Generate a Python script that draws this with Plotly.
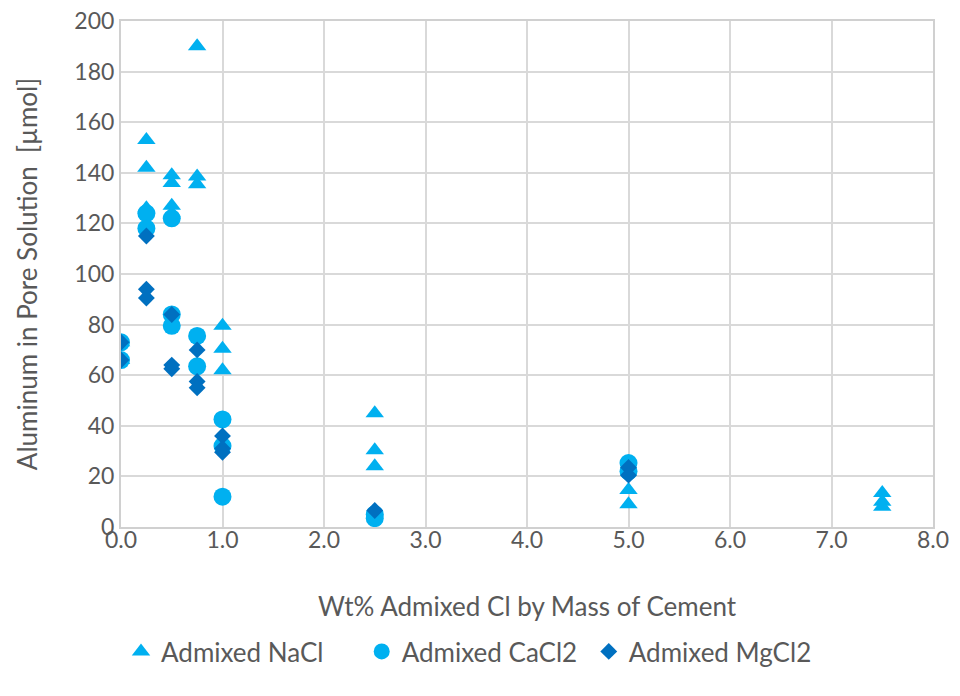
import plotly.graph_objects as go

nacl_x = [0, 0, 0.25, 0.25, 0.25, 0.5, 0.5, 0.5, 0.5, 0.75, 0.75, 0.75, 1.0, 1.0, 1.0, 2.5, 2.5, 2.5, 5.0, 5.0, 7.5, 7.5, 7.5]
nacl_y = [73, 66, 153, 142, 126, 139, 136, 127, 124, 190, 138.5, 135.5, 79.5, 70.5, 62, 45, 30.3, 24, 14.6, 9, 13.4, 10, 8]

cacl2_x = [0, 0, 0.25, 0.25, 0.5, 0.5, 0.5, 0.75, 0.75, 1.0, 1.0, 1.0, 2.5, 2.5, 5.0, 5.0]
cacl2_y = [73, 66, 124, 118, 122, 84, 79.5, 75.5, 63.5, 42.5, 32, 12, 5, 3.5, 25.3, 22]

mgcl2_x = [0, 0, 0.25, 0.25, 0.25, 0.5, 0.5, 0.5, 0.75, 0.75, 0.75, 1.0, 1.0, 1.0, 2.5, 5.0, 5.0]
mgcl2_y = [73, 66, 115, 94, 90.5, 84, 64, 62.5, 70, 57.5, 55, 36, 31, 29.5, 6.5, 23.5, 20.5]

x_ticks = [0, 1, 2, 3, 4, 5, 6, 7, 8]
y_ticks = [0, 20, 40, 60, 80, 100, 120, 140, 160, 180, 200]

font_family = "Lato, Carlito, Calibri, sans-serif"
grey = "#595959"
fsize = 26
tsize = 23

fig = go.Figure()
fig.add_trace(go.Scatter(x=nacl_x, y=nacl_y, mode="markers", name="Admixed NaCl" + "\u00a0" * 5,
                         marker=dict(symbol="triangle-up", size=16, color="#00B0F0")))
fig.add_trace(go.Scatter(x=cacl2_x, y=cacl2_y, mode="markers", name="Admixed CaCl2" + "\u00a0",
                         marker=dict(symbol="circle", size=18, color="#00B0F0")))
fig.add_trace(go.Scatter(x=mgcl2_x, y=mgcl2_y, mode="markers", name="Admixed MgCl2",
                         marker=dict(symbol="diamond", size=13, color="#0070C0")))

fig.update_layout(
    width=952, height=680,
    margin=dict(l=113, r=25, t=11, b=161),
    plot_bgcolor="white", paper_bgcolor="white",
    font=dict(family=font_family, size=fsize, color=grey),
    showlegend=True,
    legend=dict(orientation="h", x=0.0, xanchor="left", y=-0.246, yanchor="middle",
                font=dict(size=fsize, color=grey), itemwidth=30, tracegroupgap=0),
    xaxis=dict(range=[0, 8], tickvals=x_ticks, tickformat=".1f", automargin=True,
               showgrid=True, gridcolor="#D9D9D9", gridwidth=2,
               showline=True, linecolor="#D0D0D0", linewidth=2, mirror=True,
               zeroline=False, ticks="", ticklen=0, ticklabelstandoff=-9,
               ticklabeloverflow="allow",
               tickfont=dict(size=tsize, color=grey),
               title=dict(text="Wt% Admixed Cl by Mass of Cement", font=dict(size=fsize, color=grey), standoff=46)),
    yaxis=dict(range=[0, 200], tickvals=y_ticks, automargin=False,
               showgrid=True, gridcolor="#D9D9D9", gridwidth=2,
               showline=True, linecolor="#D0D0D0", linewidth=2, mirror=True,
               zeroline=False, ticks="", ticklabeloverflow="allow",
               tickfont=dict(size=tsize, color=grey),
               title=dict(text="Aluminum in Pore Solution  [µmol]", font=dict(size=fsize, color=grey), standoff=29)),
)

fig.write_html("out.html")
